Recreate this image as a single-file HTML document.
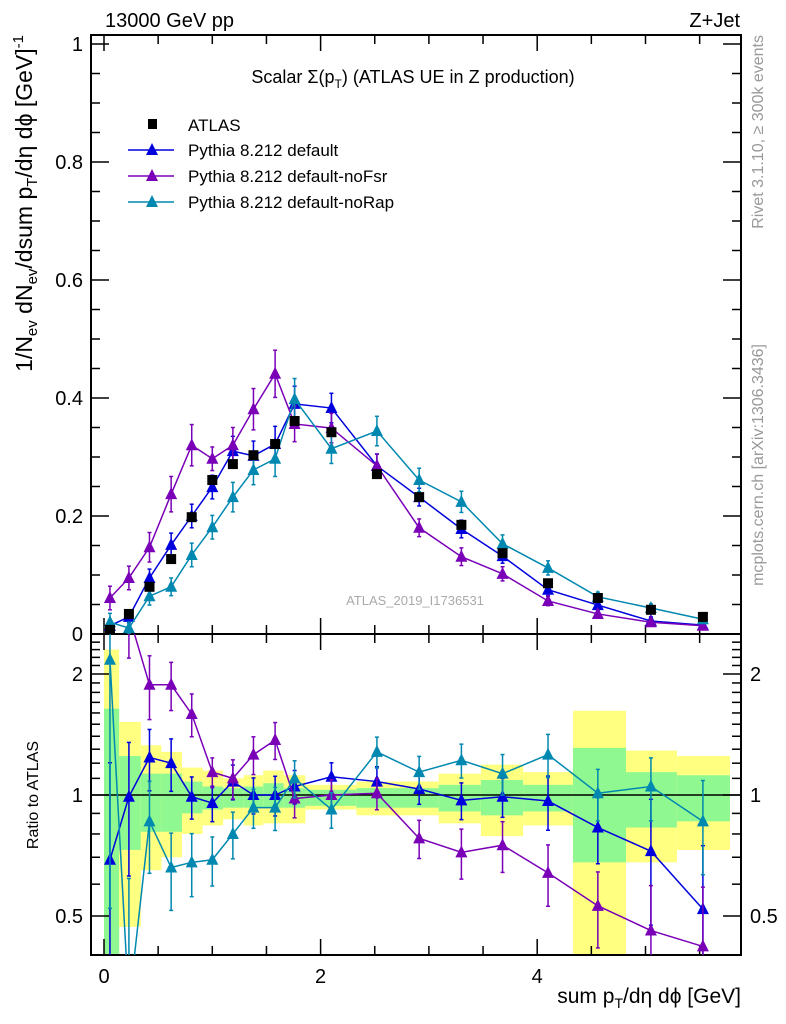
<!DOCTYPE html>
<html><head><meta charset="utf-8"><style>
html,body{margin:0;background:#fff;overflow:hidden;width:786px;height:1024px;}
svg{display:block;font-family:"Liberation Sans",sans-serif;}
</style></head><body>
<svg id="c" width="786" height="1024"></svg>
<script>
const xs=[0.055,0.23,0.42,0.62,0.81,1.0,1.19,1.38,1.58,1.76,2.1,2.52,2.91,3.3,3.68,4.1,4.56,5.05,5.53];
const atlas=[0.007,0.034,0.080,0.127,0.198,0.261,0.288,0.303,0.322,0.361,0.342,0.271,0.232,0.185,0.137,0.086,0.061,0.041,0.029];
const defVals=[0.014,0.029,0.095,0.151,0.2,0.249,0.31,0.302,0.322,0.39,0.383,0.285,0.232,0.178,0.132,0.075,0.049,0.022,0.015];
const fsrVals=[0.061,0.095,0.147,0.237,0.32,0.297,0.32,0.381,0.441,0.356,0.349,0.285,0.18,0.131,0.102,0.056,0.034,0.02,0.014];
const rapVals=[0.02,0.01,0.064,0.08,0.134,0.181,0.232,0.278,0.297,0.398,0.314,0.344,0.261,0.224,0.153,0.112,0.063,0.044,0.025];
const defErr=[0.01,0.01,0.015,0.02,0.02,0.02,0.025,0.025,0.03,0.03,0.025,0.02,0.015,0.015,0.012,0.01,0.008,0.007,0.006];
const fsrErr=[0.02,0.02,0.025,0.03,0.035,0.02,0.03,0.035,0.04,0.03,0.025,0.02,0.015,0.015,0.012,0.008,0.006,0.005,0.005];
const rapErr=[0.015,0.01,0.015,0.015,0.02,0.02,0.025,0.025,0.03,0.035,0.025,0.025,0.02,0.018,0.015,0.012,0.008,0.007,0.006];
const defRatio=[0.69,0.99,1.24,1.2,0.99,0.955,1.08,1.0,1.0,1.05,1.11,1.08,1.035,0.97,0.99,0.966,0.83,0.725,0.52];
const fsrRatio=[8,2.8,1.88,1.88,1.59,1.14,1.1,1.26,1.37,0.98,1.0,1.01,0.78,0.72,0.75,0.64,0.53,0.46,0.42];
const rapRatio=[2.17,0.3,0.86,0.66,0.68,0.69,0.8,0.93,0.93,1.1,0.92,1.28,1.14,1.22,1.13,1.26,1.01,1.05,0.86];
const binEdges=[0,0.14,0.34,0.53,0.72,0.91,1.1,1.29,1.47,1.66,1.86,2.33,3.09,3.48,3.87,4.33,4.82,5.29,5.78];
const yelHi=[2.3,1.52,1.33,1.28,1.17,1.15,1.1,1.12,1.15,1.12,1.06,1.08,1.13,1.19,1.14,1.62,1.29,1.25];
const yelLo=[0.39,0.47,0.65,0.70,0.80,0.84,0.87,0.84,0.85,0.85,0.92,0.89,0.85,0.79,0.84,0.39,0.68,0.73];
const grnHi=[1.64,1.25,1.13,1.13,1.08,1.05,1.04,1.05,1.07,1.04,1.03,1.04,1.06,1.09,1.06,1.31,1.14,1.12];
const grnLo=[0.39,0.73,0.81,0.81,0.90,0.92,0.93,0.93,0.93,0.93,0.94,0.93,0.91,0.89,0.91,0.68,0.83,0.86];
const xTicks=[0,2,4];
const yTicks=[0,0.2,0.4,0.6,0.8,1];
const yTickLabels=["0","0.2","0.4","0.6","0.8","1"];
const rTicks=[0.5,1,2];
const rTickLabels=["0.5","1","2"];

const NS="http://www.w3.org/2000/svg";
const svg=document.getElementById('c');
const L=91,R=741,T=35,M=634,B=955;
const X=v=>104+v*108.3;
const Y=v=>634-v*590;
const RY=v=>795-Math.log2(v)*121;
function el(tag,attrs,parent){const e=document.createElementNS(NS,tag);for(const k in attrs)e.setAttribute(k,attrs[k]);(parent||svg).appendChild(e);return e;}
function txt(s,x,y,attrs,parent){const t=el('text',Object.assign({x:x,y:y,'font-size':20,fill:'#000'},attrs||{}),parent);t.innerHTML=s;return t;}

const defs=el('defs',{});
const c1=el('clipPath',{id:'cm'},defs);el('rect',{x:L,y:T,width:R-L,height:M-T},c1);
const c2=el('clipPath',{id:'cr'},defs);el('rect',{x:L,y:M,width:R-L,height:B-M},c2);

const gb=el('g',{'clip-path':'url(#cr)'});

for(let i=0;i<yelHi.length;i++){
  const x0=X(binEdges[i]),x1=X(binEdges[i+1]);
  const y=el('rect',{x:x0,y:RY(yelHi[i]),width:x1-x0,height:RY(yelLo[i])-RY(yelHi[i]),fill:'#ffff80'},gb);
  
  const g=el('rect',{x:x0,y:RY(grnHi[i]),width:x1-x0,height:RY(grnLo[i])-RY(grnHi[i]),fill:'#90f890'},gb);
  
}
el('line',{x1:L,x2:R,y1:RY(1),y2:RY(1),stroke:'#000','stroke-width':1.5});

const f1=el('rect',{x:L,y:T,width:R-L,height:M-T,fill:'none',stroke:'#000','stroke-width':2});

const f2=el('rect',{x:L,y:M,width:R-L,height:B-M,fill:'none',stroke:'#000','stroke-width':2});


for(let v=0;v<=5.8;v+=0.5){
  const maj=Math.abs(v-Math.round(v/2)*2)<1e-6;const len=maj?16:9;
  [[T,1],[M,-1],[M,1],[B,-1]].forEach(([y0,d])=>el('line',{x1:X(v),x2:X(v),y1:y0,y2:y0+d*len,stroke:'#000','stroke-width':1.5}));
}
xTicks.forEach(v=>{const t=txt(String(v),X(v),983,{'text-anchor':'middle'});});
for(let k=0;k<=20;k++){const v=k*0.05;const maj=k%4===0;const len=maj?18:9;
  el('line',{x1:L,x2:L+len,y1:Y(v),y2:Y(v),stroke:'#000','stroke-width':1.5});
  el('line',{x1:R,x2:R-len,y1:Y(v),y2:Y(v),stroke:'#000','stroke-width':1.5});}
yTicks.forEach((v,i)=>{const t=txt(yTickLabels[i],83,Y(v)+7,{'text-anchor':'end'});});
for(let v=0.4;v<=2.5;v+=0.1){const maj=[0.5,1,2].some(m=>Math.abs(m-v)<1e-6);if(RY(v)<M||RY(v)>B)continue;const len=maj?18:9;
  el('line',{x1:L,x2:L+len,y1:RY(v),y2:RY(v),stroke:'#000','stroke-width':1.5});
  el('line',{x1:R,x2:R-len,y1:RY(v),y2:RY(v),stroke:'#000','stroke-width':1.5});}
rTicks.forEach((v,i)=>{
  const a=txt(rTickLabels[i],83,RY(v)+7,{'text-anchor':'end'});
  const b=txt(rTickLabels[i],750,RY(v)+7,{});});

const series=[
 {name:'default',c:'#0000dd',v:defVals,e:defErr,r:defRatio},
 {name:'noFsr',c:'#7a00b8',v:fsrVals,e:fsrErr,r:fsrRatio},
 {name:'noRap',c:'#0088b0',v:rapVals,e:rapErr,r:rapRatio}];
function tri(g,x,y,c){const p=el('polygon',{points:`${x},${y-7} ${x-6},${y+5} ${x+6},${y+5}`,fill:c},g);return p;}
series.forEach(s=>{
  const gm=el('g',{'clip-path':'url(#cm)'});
  
  el('polyline',{points:xs.map((x,i)=>X(x)+','+Y(s.v[i])).join(' '),fill:'none',stroke:s.c,'stroke-width':1.5},gm);
  xs.forEach((x,i)=>{
    el('line',{x1:X(x),x2:X(x),y1:Y(s.v[i]-s.e[i]),y2:Y(s.v[i]+s.e[i]),stroke:s.c,'stroke-width':1.5},gm);
    [s.v[i]-s.e[i],s.v[i]+s.e[i]].forEach(v=>el('line',{x1:X(x)-2,x2:X(x)+2,y1:Y(v),y2:Y(v),stroke:s.c,'stroke-width':1.5},gm));
    const p=tri(gm,X(x),Y(s.v[i]),s.c);
    
  });
  const gr=el('g',{'clip-path':'url(#cr)'});
  
  el('polyline',{points:xs.map((x,i)=>X(x)+','+RY(s.r[i])).join(' '),fill:'none',stroke:s.c,'stroke-width':1.5},gr);
  xs.forEach((x,i)=>{
    const re=s.r[i]*Math.max(s.e[i]/s.v[i],0.02)+0.02;
    const lo=Math.max(s.r[i]-re,0.05),hi=s.r[i]+re;
    el('line',{x1:X(x),x2:X(x),y1:RY(lo),y2:RY(hi),stroke:s.c,'stroke-width':1.5},gr);
    [lo,hi].forEach(v=>el('line',{x1:X(x)-2,x2:X(x)+2,y1:RY(v),y2:RY(v),stroke:s.c,'stroke-width':1.5},gr));
    const p=tri(gr,X(x),RY(s.r[i]),s.c);
    
  });
});
const ga=el('g',{'clip-path':'url(#cm)'});

xs.forEach((x,i)=>{const r=el('rect',{x:X(x)-5,y:Y(atlas[i])-5,width:10,height:10,fill:'#000'},ga);
  });

const lg=el('g',{});
el('rect',{x:148,y:119,width:9,height:10,fill:'#000'},lg);
txt('ATLAS',188,131,{'font-size':17},lg);
series.forEach((s,i)=>{const y=150+i*26;
  el('line',{x1:128,x2:174,y1:y,y2:y,stroke:s.c,'stroke-width':1.5},lg);tri(lg,152,y,s.c);
  const t=txt('Pythia 8.212 '+(i===0?'default':'default-'+s.name),188,y+6,{'font-size':17},lg);
  });

let t;
t=txt('13000 GeV pp',105,27,{'font-size':20});
t=txt('Z+Jet',740,27,{'font-size':20,'text-anchor':'end'});
t=txt('Scalar Σ(p<tspan font-size="12" dy="5">T</tspan><tspan dy="-5">) (ATLAS UE in Z production)</tspan>',413,83,{'font-size':18,'text-anchor':'middle'});
t=txt('ATLAS_2019_I1736531',415,605,{'font-size':13,fill:'#aaa','text-anchor':'middle'});
t=txt('Rivet 3.1.10, ≥ 300k events',0,0,{'font-size':16,fill:'#999','text-anchor':'end',transform:'translate(763,35) rotate(-90)'});
t=txt('mcplots.cern.ch [arXiv:1306.3436]',0,0,{'font-size':16,fill:'#999','text-anchor':'end',transform:'translate(763,344) rotate(-90)'});
t=txt('1/N<tspan font-size="15" dy="5">ev</tspan><tspan dy="-5"> dN</tspan><tspan font-size="15" dy="5">ev</tspan><tspan dy="-5">/dsum p</tspan><tspan font-size="15" dy="5">T</tspan><tspan dy="-5">/dη dϕ  [GeV]</tspan><tspan font-size="15" dy="-9">-1</tspan>',0,0,{'font-size':23,'text-anchor':'end',transform:'translate(32,35) rotate(-90)'});
t=txt('Ratio to ATLAS',0,0,{'font-size':16,'text-anchor':'middle',transform:'translate(38,795) rotate(-90)'});
t=txt('sum p<tspan font-size="14" dy="5">T</tspan><tspan dy="-5">/dη dϕ [GeV]</tspan>',741,1003,{'font-size':21,'text-anchor':'end'});
</script>
</body></html>
